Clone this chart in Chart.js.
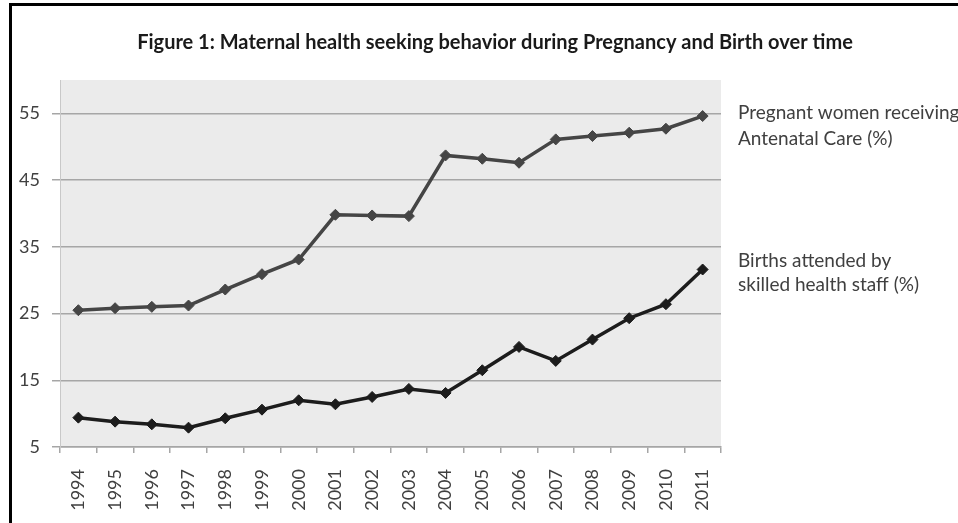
<!DOCTYPE html>
<html><head><meta charset="utf-8">
<script src="https://cdn.jsdelivr.net/npm/chart.js@4"></script>
<style>
html,body{margin:0;padding:0;background:#fff;overflow:hidden;width:958px;height:523px}
#frame{position:absolute;left:9px;top:3px;width:1000px;height:600px;border:3px solid #000;}
#wrap{position:absolute;left:0;top:0;width:958px;height:523px}
</style></head><body>
<div id="frame"></div>
<div id="wrap"><canvas id="c" width="958" height="523"></canvas></div>
<script>
const years = ['1994','1995','1996','1997','1998','1999','2000','2001','2002','2003','2004','2005','2006','2007','2008','2009','2010','2011'];
const antenatal = [25.5,25.8,26.0,26.2,28.6,30.9,33.1,39.8,39.7,39.6,48.7,48.2,47.6,51.1,51.6,52.1,52.7,54.6];
const birthsSkilled = [9.4,8.8,8.4,7.9,9.3,10.6,12.0,11.4,12.5,13.7,13.1,16.5,20.0,17.9,21.1,24.3,26.4,31.6];
const yTicks = [5,15,25,35,45,55];
const titleText = 'Figure 1: Maternal health seeking behavior during Pregnancy and Birth over time';
const antenatalLabel = ['Pregnant women receiving', 'Antenatal Care (%)'];
const birthsLabel = ['Births attended by', 'skilled health staff (%)'];

Chart.defaults.font.family = 'Lato, "Open Sans", sans-serif';

const plotBg = {
  id: 'plotBg',
  beforeDraw(chart) {
    const {ctx, chartArea: a} = chart;
    ctx.save();
    ctx.fillStyle = '#ebebeb';
    ctx.fillRect(a.left, a.top, a.right - a.left, a.bottom - a.top);
    ctx.restore();
  }
};

const texts = {
  id: 'texts',
  afterDraw(chart) {
    const {ctx, chartArea: a} = chart;
    ctx.save();
    ctx.fillStyle = '#1a1a1a';
    ctx.font = 'bold 20px Lato, "Open Sans", sans-serif';
    ctx.textAlign = 'center';
    ctx.textBaseline = 'middle';
    ctx.fillText(titleText, 495, 43);
    ctx.fillStyle = '#404040';
    ctx.font = '19px Lato, "Open Sans", sans-serif';
    ctx.textAlign = 'left';
    const x = a.right + 17;
    antenatalLabel.forEach((t, i) => ctx.fillText(t, x, 113 + i * 26));
    birthsLabel.forEach((t, i) => ctx.fillText(t, x, 261 + i * 24));
    ctx.restore();
  }
};

new Chart(document.getElementById('c'), {
  type: 'line',
  data: {
    labels: years,
    datasets: [
      {
        label: antenatalLabel.join(' '),
        data: antenatal,
        borderColor: '#454545',
        backgroundColor: '#454545',
        borderWidth: 3.5,
        pointStyle: 'rectRot',
        pointRadius: 5.5,
        pointBorderWidth: 1,
        tension: 0
      },
      {
        label: birthsLabel.join(' '),
        data: birthsSkilled,
        borderColor: '#1c1c1c',
        backgroundColor: '#1c1c1c',
        borderWidth: 3.5,
        pointStyle: 'rectRot',
        pointRadius: 5.5,
        pointBorderWidth: 1,
        tension: 0
      }
    ]
  },
  options: {
    responsive: false,
    animation: false,
    layout: {padding: {left: 12, top: 80, right: 237, bottom: 0}},
    plugins: {legend: {display: false}, title: {display: false}, tooltip: {enabled: false}},
    scales: {
      x: {
        type: 'category',
        offset: true,
        afterFit(s) { s.height = 76; },
        grid: {drawOnChartArea: false, drawTicks: true, tickLength: 6, color: '#a6a6a6', lineWidth: 1.5, offset: true},
        border: {display: true, color: '#a6a6a6', width: 1.5},
        ticks: {minRotation: 90, maxRotation: 90, autoSkip: false, padding: 16, color: '#404040', font: {size: 18}}
      },
      y: {
        min: 5,
        max: 60,
        afterFit(s) { s.width = 48; },
        afterBuildTicks(s) { s.ticks = yTicks.map(v => ({value: v})); },
        grid: {color: '#a6a6a6', lineWidth: 1.5, tickLength: 8, drawTicks: true},
        border: {display: true, color: '#c8c8c8', width: 1},
        ticks: {padding: 12, color: '#404040', font: {size: 18}}
      }
    }
  },
  plugins: [plotBg, texts]
});
</script>
</body></html>
